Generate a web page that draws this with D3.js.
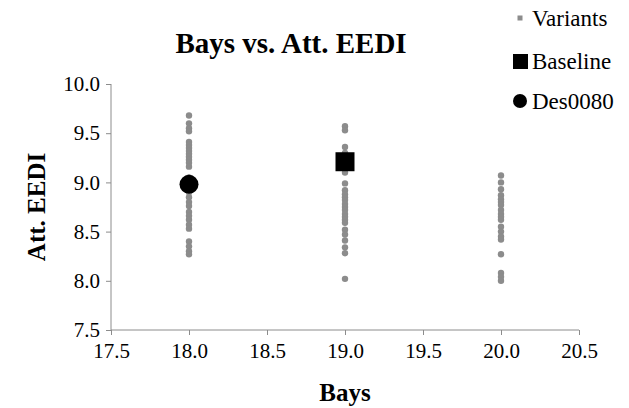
<!DOCTYPE html>
<html>
<head>
<meta charset="utf-8">
<script src="https://cdn.jsdelivr.net/npm/d3@7"></script>
<style>
	body { margin: 0; background: #fff; }
	.axis path, .axis line { stroke: #8c8c8c; }
</style>
</head>
<body>
<svg id="chart"></svg>
<script>
var xTicks = [17.5, 18.0, 18.5, 19.0, 19.5, 20.0, 20.5];
var yTicks = [7.5, 8.0, 8.5, 9.0, 9.5, 10.0];

// variants, one list per bay count
var bays18 = [9.68, 9.60, 9.55, 9.52, 9.41, 9.38, 9.35, 9.32, 9.29, 9.26, 9.23, 9.20, 9.16,
	9.05, 9.02, 8.95, 8.90, 8.85, 8.80, 8.76, 8.70, 8.66, 8.62, 8.57, 8.53, 8.40, 8.35, 8.30, 8.27];
var bays19 = [9.57, 9.53, 9.36, 9.30, 9.10, 8.99, 8.92, 8.88, 8.85, 8.82, 8.78, 8.75, 8.72,
	8.68, 8.65, 8.62, 8.59, 8.52, 8.47, 8.41, 8.34, 8.28, 8.02];
var bays20 = [9.07, 9.00, 8.93, 8.87, 8.83, 8.80, 8.77, 8.72, 8.68, 8.65, 8.62, 8.55, 8.50,
	8.45, 8.42, 8.27, 8.08, 8.04, 8.00];
var baseline = {bays: 19.0, eedi: 9.21};
var des0080 = {bays: 18.0, eedi: 8.98};

var serif = "Liberation Serif";

var W = 629, H = 408;
var margin = {top: 84, right: 50, bottom: 78, left: 111};
var width = W - margin.left - margin.right,
	height = H - margin.top - margin.bottom;

var svg = d3.select("#chart").attr("width", W).attr("height", H);
var g = svg.append("g").attr("transform", "translate(" + margin.left + "," + margin.top + ")");

var x = d3.scaleLinear().domain([17.5, 20.5]).range([0, width]);
var y = d3.scaleLinear().domain([7.5, 10.0]).range([height, 0]);

function styleTicks(a) {
	a.selectAll("text")
		.style("font-family", serif)
		.style("font-size", "21px")
		.style("fill", "#000");
}

g.append("g")
	.attr("class", "axis")
	.attr("transform", "translate(0," + height + ")")
	.call(d3.axisBottom(x).tickValues(xTicks).tickFormat(d3.format(".1f")).tickSize(5).tickPadding(8))
	.call(function (a) { a.select(".domain").attr("d", "M0,0H" + width); })
	.call(styleTicks);

g.append("g")
	.attr("class", "axis")
	.call(d3.axisLeft(y).tickValues(yTicks).tickFormat(d3.format(".1f")).tickSize(5).tickPadding(6))
	.call(function (a) { a.select(".domain").attr("d", "M0,0V" + height); })
	.call(styleTicks);

var variants = [];
[[18, bays18], [19, bays19], [20, bays20]].forEach(function (s) {
	s[1].forEach(function (v) { variants.push({bays: s[0], eedi: v}); });
});

g.selectAll(".variant")
	.data(variants).enter().append("circle")
		.attr("class", "variant")
		.attr("cx", function (d) { return x(d.bays); })
		.attr("cy", function (d) { return y(d.eedi); })
		.attr("r", 3.2)
		.attr("fill", "#8c8c8c");

g.append("rect")
	.attr("x", x(baseline.bays) - 9.5)
	.attr("y", y(baseline.eedi) - 9.5)
	.attr("width", 19).attr("height", 19)
	.attr("fill", "#000");

g.append("circle")
	.attr("cx", x(des0080.bays))
	.attr("cy", y(des0080.eedi))
	.attr("r", 9.5)
	.attr("fill", "#000");

// titles
svg.append("text")
	.attr("x", 291).attr("y", 53)
	.attr("text-anchor", "middle")
	.style("font-family", serif).style("font-size", "29px").style("font-weight", "bold")
	.text("Bays vs. Att. EEDI");

svg.append("text")
	.attr("x", margin.left + width / 2).attr("y", 401)
	.attr("text-anchor", "middle")
	.style("font-family", serif).style("font-size", "25px").style("font-weight", "bold")
	.text("Bays");

svg.append("text")
	.attr("transform", "translate(45," + (margin.top + height / 2) + ") rotate(-90)")
	.attr("text-anchor", "middle")
	.style("font-family", serif).style("font-size", "25px").style("font-weight", "bold")
	.text("Att. EEDI");

// legend
var legendItems = ["Variants", "Baseline", "Des0080"];
var legend = svg.append("g").attr("transform", "translate(520,0)");
legend.append("rect").attr("x", -2.5).attr("y", 15.5).attr("width", 5).attr("height", 5).attr("fill", "#8c8c8c");
legend.append("rect").attr("x", -7).attr("y", 54).attr("width", 15).attr("height", 15).attr("fill", "#000");
legend.append("circle").attr("cx", 0).attr("cy", 101).attr("r", 7).attr("fill", "#000");
legend.selectAll(".label")
	.data(legendItems).enter().append("text")
		.attr("class", "label")
		.attr("x", 12)
		.attr("y", function (d, i) { return [26, 69, 109][i]; })
		.style("font-family", serif).style("font-size", "23px")
		.text(function (d) { return d; });
</script>
</body>
</html>
